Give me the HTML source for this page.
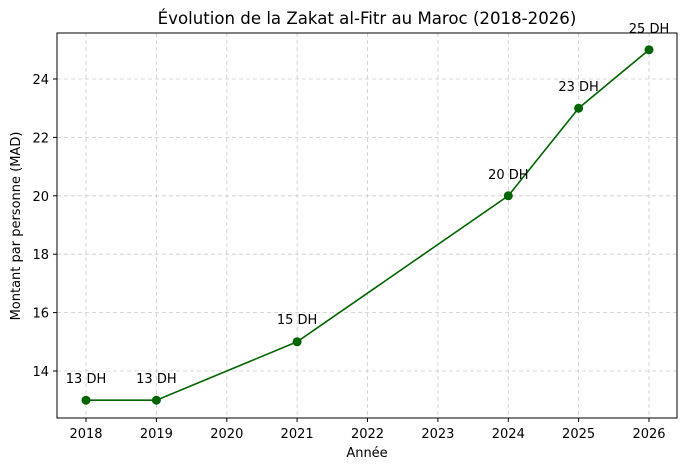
<!DOCTYPE html>
<html><head><meta charset="utf-8"><style>body{margin:0;background:#fff}</style></head><body>
<svg width="687" height="471" xmlns="http://www.w3.org/2000/svg" font-family="DejaVu Sans, Liberation Sans, sans-serif">
<rect width="687" height="471" fill="#fff"/>
<g stroke="#cccccc" stroke-width="0.8" stroke-dasharray="4,3">
<line x1="86" y1="33" x2="86" y2="418"/><line x1="156.4" y1="33" x2="156.4" y2="418"/><line x1="226.8" y1="33" x2="226.8" y2="418"/><line x1="297.1" y1="33" x2="297.1" y2="418"/><line x1="367.5" y1="33" x2="367.5" y2="418"/><line x1="437.9" y1="33" x2="437.9" y2="418"/><line x1="508.3" y1="33" x2="508.3" y2="418"/><line x1="578.6" y1="33" x2="578.6" y2="418"/><line x1="649" y1="33" x2="649" y2="418"/>
<line x1="57" y1="371" x2="677" y2="371"/><line x1="57" y1="312.6" x2="677" y2="312.6"/><line x1="57" y1="254.2" x2="677" y2="254.2"/><line x1="57" y1="195.8" x2="677" y2="195.8"/><line x1="57" y1="137.4" x2="677" y2="137.4"/><line x1="57" y1="79" x2="677" y2="79"/>
</g>
<rect x="57" y="33" width="620" height="385" fill="none" stroke="#000" stroke-width="1"/>
<g stroke="#000"><line x1="86" y1="418" x2="86" y2="422"/><line x1="156.4" y1="418" x2="156.4" y2="422"/><line x1="226.8" y1="418" x2="226.8" y2="422"/><line x1="297.1" y1="418" x2="297.1" y2="422"/><line x1="367.5" y1="418" x2="367.5" y2="422"/><line x1="437.9" y1="418" x2="437.9" y2="422"/><line x1="508.3" y1="418" x2="508.3" y2="422"/><line x1="578.6" y1="418" x2="578.6" y2="422"/><line x1="649" y1="418" x2="649" y2="422"/>
<line x1="53" y1="371" x2="57" y2="371"/><line x1="53" y1="312.6" x2="57" y2="312.6"/><line x1="53" y1="254.2" x2="57" y2="254.2"/><line x1="53" y1="195.8" x2="57" y2="195.8"/><line x1="53" y1="137.4" x2="57" y2="137.4"/><line x1="53" y1="79" x2="57" y2="79"/></g>
<g font-size="13" text-anchor="middle" fill="#000">
<text x="86" y="438">2018</text><text x="156.4" y="438">2019</text><text x="226.8" y="438">2020</text><text x="297.1" y="438">2021</text><text x="367.5" y="438">2022</text><text x="437.9" y="438">2023</text><text x="508.3" y="438">2024</text><text x="578.6" y="438">2025</text><text x="649" y="438">2026</text>
</g>
<g font-size="13" text-anchor="end"><text x="49" y="376">14</text><text x="49" y="317.6">16</text><text x="49" y="259.2">18</text><text x="49" y="200.8">20</text><text x="49" y="142.4">22</text><text x="49" y="84">24</text></g>
<text x="367" y="457" font-size="13" text-anchor="middle">Année</text>
<text transform="translate(20,226) rotate(-90)" font-size="13" text-anchor="middle">Montant par personne (MAD)</text>
<text x="367" y="24" font-size="16.6" text-anchor="middle">Évolution de la Zakat al-Fitr au Maroc (2018-2026)</text>
<polyline points="86,400.2 156.4,400.2 297.1,341.8 508.3,195.8 578.6,108.2 649,49.8" fill="none" stroke="#006400" stroke-width="1.6"/>
<g fill="#006400"><circle cx="86" cy="400.2" r="4.5"/><circle cx="156.4" cy="400.2" r="4.5"/><circle cx="297.1" cy="341.8" r="4.5"/><circle cx="508.3" cy="195.8" r="4.5"/><circle cx="578.6" cy="108.2" r="4.5"/><circle cx="649" cy="49.8" r="4.5"/></g>
<g font-size="13" text-anchor="middle"><text x="86" y="383">13 DH</text><text x="156.4" y="383">13 DH</text><text x="297.1" y="324">15 DH</text><text x="508.3" y="179">20 DH</text><text x="578.6" y="91">23 DH</text><text x="649" y="33">25 DH</text></g>
</svg>
</body></html>
